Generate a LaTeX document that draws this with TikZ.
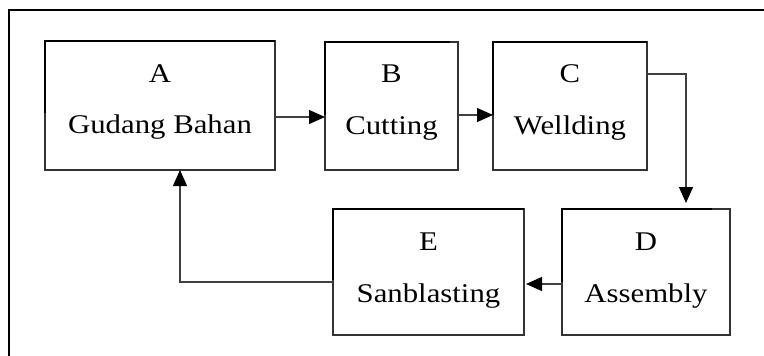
\documentclass[tikz,border=0pt]{standalone}
\usepackage{fontspec}
\setmainfont{Liberation Serif}[FakeStretch=1.14]
\usetikzlibrary{arrows.meta}
\begin{document}
\begin{tikzpicture}[x=1pt,y=-1pt,
  box/.style={draw=black!80, line width=1.2pt, inner sep=0pt, outer sep=0pt, minimum height=128pt},
  edge/.style={line width=2.2pt, black},
  lbl/.style={anchor=base, inner sep=0pt, font=\fontsize{27}{31}\selectfont},
  arr/.style={draw=black!75, line width=1.3pt, -{Triangle[length=16pt,width=14pt,color=black]}},
  frame/.style={line width=2.2pt, black}]
\useasboundingbox (0,0) rectangle (764,356);
% outer frame
\coordinate (fb) at (9,356);
\coordinate (ftl) at (9,10);
\coordinate (fr) at (764,10);
\draw[frame] (fb) -- (ftl) -- (fr);
% boxes
\node[box, minimum width=230pt, minimum height=129pt] (A) at (160,105.5) {};
\node[box, minimum width=133pt] (B) at (391.5,106) {};
\node[box, minimum width=154pt] (C) at (570,106) {};
\node[box, minimum width=168pt, minimum height=126pt] (D) at (646,272) {};
\node[box, minimum width=191pt, minimum height=126pt] (E) at (428.5,272) {};
% thick top/left edges
\draw[edge] (A.north east) -- (A.north west) -- ++(0,72);
\draw[edge] ([xshift=-8pt]B.north east) -- (B.north west) -- ++(0,73);
\draw[edge] (C.north east) -- (C.north west) -- ++(0,73);
\draw[edge] ([xshift=-18pt]D.north east) -- (D.north west) -- ++(0,73);
\draw[edge] (E.north east) -- (E.north west) -- ++(0,71);
% labels
\node[lbl] (Al) at ([yshift=-41pt]A.north) {A};
\node[lbl] (At) at ([yshift=-92pt]A.north) {Gudang Bahan};
\node[lbl] (Bl) at ([yshift=-40pt]B.north) {B};
\node[lbl] (Bt) at ([yshift=-92pt]B.north) {Cutting};
\node[lbl] (Cl) at ([yshift=-40pt]C.north) {C};
\node[lbl] (Ct) at ([yshift=-92pt]C.north) {Wellding};
\node[lbl] (Dl) at ([yshift=-41pt]D.north) {D};
\node[lbl] (Dt) at ([yshift=-93pt]D.north) {Assembly};
\node[lbl] (El) at ([yshift=-41pt]E.north) {E};
\node[lbl] (Et) at ([yshift=-93pt]E.north) {Sanblasting};
% connectors
\draw[arr] ([yshift=-11.5pt]A.east) -- ([yshift=-11.5pt]A.east -| B.west);
\draw[arr] ([yshift=-9pt]B.east) -- ([yshift=-9pt]C.west);
\draw[arr, shorten >=6pt] ([yshift=32pt]C.east) -| ([xshift=40pt]D.north);
\draw[arr, shorten >=2pt] ([yshift=-12pt]D.west) -- ([yshift=-12pt]E.east);
\draw[arr] ([yshift=-10pt]E.west) -| ([xshift=20pt]A.south);
\end{tikzpicture}
\end{document}
